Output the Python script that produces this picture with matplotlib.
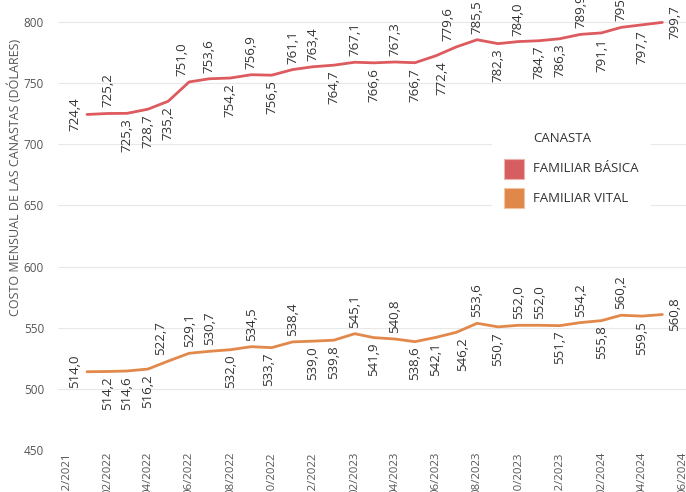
import matplotlib
matplotlib.use("Agg")
import matplotlib.dates as mdates
import pandas as pd
from matplotlib import pyplot as plt
from matplotlib.patches import Rectangle

plt.rcParams["font.family"] = ["Open Sans", "DejaVu Sans"]

W, H = 686, 492

months = [
    "2022-01", "2022-02", "2022-03", "2022-04", "2022-05", "2022-06",
    "2022-07", "2022-08", "2022-09", "2022-10", "2022-11", "2022-12",
    "2023-01", "2023-02", "2023-03", "2023-04", "2023-05", "2023-06",
    "2023-07", "2023-08", "2023-09", "2023-10", "2023-11", "2023-12",
    "2024-01", "2024-02", "2024-03", "2024-04", "2024-05",
]
basica = [
    724.4, 725.2, 725.3, 728.7, 735.2, 751.0, 753.6, 754.2, 756.9, 756.5,
    761.1, 763.4, 764.7, 767.1, 766.6, 767.3, 766.7, 772.4, 779.6, 785.5,
    782.3, 784.0, 784.7, 786.3, 789.9, 791.1, 795.6, 797.7, 799.7,
]
vital = [
    514.0, 514.2, 514.6, 516.2, 522.7, 529.1, 530.7, 532.0, 534.5, 533.7,
    538.4, 539.0, 539.8, 545.1, 541.9, 540.8, 538.6, 542.1, 546.2, 553.6,
    550.7, 552.0, 552.0, 551.7, 554.2, 555.8, 560.2, 559.5, 560.8,
]
series_names = ["FAMILIAR BÁSICA", "FAMILIAR VITAL"]

# label placement: A above, B below, L left, R right
pos_basica = "LABBBAABABAABABABBAABABBABABR"
pos_vital = "LBBBAAABABABBABABBBABAABABABR"
nudge_basica = {5: -7, 17: 6, 18: -8}
nudge_vital = {4: -8, 9: -3, 18: 6}

colors = ["#DD5A5E", "#E2884A"]
swatch_colors = ["#D65E60", "#E0884A"]
text_color = "#333333"
axis_color = "#555555"


def px(x, y):
    return x / W, 1 - y / H


def label_points(ax, dates, values, positions, nudges):
    for i, (d, v, p) in enumerate(zip(dates, values, positions)):
        dx = nudges.get(i, 0)
        txt = f"{v:.1f}".replace(".", ",")
        if p == "A":
            kw = dict(xytext=(dx, 6), ha="center", va="bottom")
        elif p == "B":
            kw = dict(xytext=(dx, -5), ha="center", va="top")
        elif p == "L":
            kw = dict(xytext=(-6, 0), ha="right", va="center")
        else:
            kw = dict(xytext=(6, 0), ha="left", va="center")
        ax.annotate(txt, (d, v), textcoords="offset pixels", rotation=90,
                    fontsize=9.5, color=text_color, annotation_clip=False, **kw)


dates = pd.to_datetime(months)

fig = plt.figure(figsize=(W / 100, H / 100), dpi=100)
ax = fig.add_axes([58 / W, 42 / H, 628 / W, 450 / H])

for vals, c in zip([basica, vital], colors):
    ax.plot(dates, vals, color=c, lw=2.0, solid_capstyle="round")

label_points(ax, dates, basica, pos_basica, nudge_basica)
label_points(ax, dates, vital, pos_vital, nudge_vital)

ax.set_ylim(450, 818)
ax.set_xlim(pd.Timestamp("2021-11-19"), pd.Timestamp("2024-06-05"))
ax.set_yticks(range(450, 801, 50))
ax.grid(axis="y", color="#e8e8e8", lw=0.8)
ax.set_axisbelow(True)
for s in ax.spines.values():
    s.set_visible(False)

ax.xaxis.set_major_locator(mdates.MonthLocator(bymonth=[2, 4, 6, 8, 10, 12]))
ax.xaxis.set_major_formatter(mdates.DateFormatter("%m/%Y"))
ax.tick_params(axis="x", length=0, pad=1, labelsize=8.2, labelcolor=axis_color,
               labelrotation=90)
ax.tick_params(axis="y", length=0, pad=10, labelsize=8.5, labelcolor=axis_color)

fig.text(*px(15, 177), "COSTO MENSUAL DE LAS CANASTAS (DÓLARES)", rotation=90,
         ha="center", va="center", fontsize=9, color=axis_color)

# legend drawn by hand, with the title lined up on the entry text
x0, y0 = px(492, 125)
x1, y1 = px(651, 214)
fig.add_artist(Rectangle((x0, y1), x1 - x0, y0 - y1, transform=fig.transFigure,
                         facecolor="white", edgecolor="none", zorder=2))
fig.text(*px(533, 139), "CANASTA", ha="left", va="center", fontsize=9.5,
         color=text_color, zorder=3)
for k, (name, c) in enumerate(zip(series_names, swatch_colors)):
    top = 159 + 29 * k
    sx, sy = px(504, top + 20)
    fig.add_artist(Rectangle((sx, sy), 20 / W, 20 / H, transform=fig.transFigure,
                             facecolor=c, edgecolor="#eeb2ae" if k == 0 else "#f2c4a2",
                             lw=0.8, zorder=3))
    fig.text(*px(533, top + 10), name, ha="left", va="center", fontsize=9.5,
             color=text_color, zorder=3)

fig.savefig("out.png", dpi=100)
